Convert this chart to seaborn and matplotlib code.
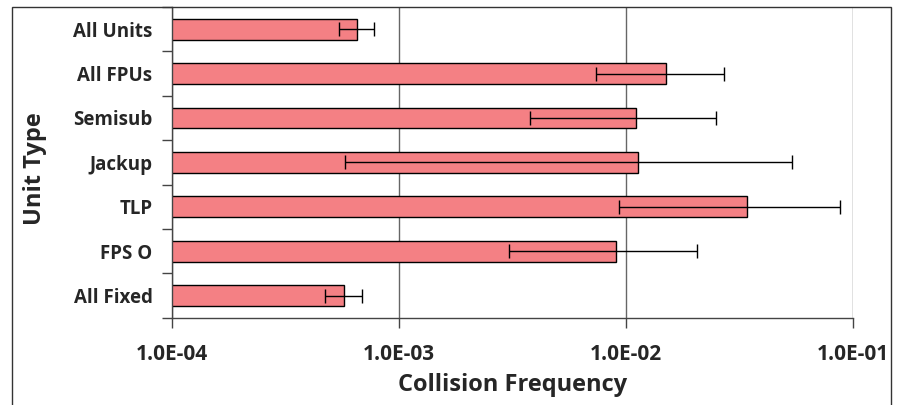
import matplotlib
matplotlib.use("Agg")
from matplotlib import pyplot as plt
from matplotlib.patches import Rectangle
from matplotlib.ticker import FixedLocator, FixedFormatter, NullLocator
import pandas as pd
import seaborn as sns

# data
unit_types = ["All Units", "All FPUs", "Semisub", "Jackup", "TLP", "FPS O", "All Fixed"]
frequency = [6.5e-4, 1.50e-2, 1.11e-2, 1.13e-2, 3.42e-2, 9.0e-3, 5.74e-4]
err_low = [5.42e-4, 7.4e-3, 3.79e-3, 5.78e-4, 9.35e-3, 3.06e-3, 4.72e-4]
err_high = [7.76e-4, 2.69e-2, 2.5e-2, 5.4e-2, 8.8e-2, 2.06e-2, 6.87e-4]
x_ticks = [1e-4, 1e-3, 1e-2, 1e-1]
x_tick_labels = ["1.0E-04", "1.0E-03", "1.0E-02", "1.0E-01"]

df = pd.DataFrame({"unit": unit_types, "freq": frequency})

sns.set_style("white")
plt.rcParams["font.family"] = ["Open Sans", "DejaVu Sans"]

fig = plt.figure(figsize=(8.97, 4.05), dpi=100)
ax = fig.add_axes([172 / 897, 1 - 317.7 / 405, 681 / 897, 310.7 / 405])

sns.barplot(data=df, x="freq", y="unit", orient="h", ax=ax, color="#F48084",
            saturation=1, edgecolor="black", linewidth=1, width=0.47, zorder=2)
ax.set_xscale("log")

# asymmetric error bars
xerr = [[f - lo for f, lo in zip(frequency, err_low)],
        [hi - f for f, hi in zip(frequency, err_high)]]
ax.errorbar(frequency, range(len(unit_types)), xerr=xerr, fmt="none",
            ecolor="black", elinewidth=1, capsize=4.7, capthick=1, zorder=3)

ax.set_xlim(1e-4, 1e-1)
ax.set_ylim(len(unit_types) - 0.5, -0.5)

# x axis
ax.xaxis.set_major_locator(FixedLocator(x_ticks))
ax.xaxis.set_major_formatter(FixedFormatter(x_tick_labels))
ax.xaxis.set_minor_locator(NullLocator())
ax.tick_params(axis="x", which="major", length=7, width=1, color="#444444",
               direction="out", pad=12, labelsize=15, bottom=True)
for lab in ax.get_xticklabels():
    lab.set_fontweight("bold")
ax.grid(axis="x", color="#666666", linewidth=1, zorder=0)
ax.set_axisbelow(True)

# y axis: labels at centres, ticks between categories
ax.tick_params(axis="y", which="major", length=0, pad=14, labelsize=13.5)
ax.yaxis.set_minor_locator(FixedLocator([i - 0.5 for i in range(len(unit_types) + 1)]))
ax.tick_params(axis="y", which="minor", length=7, width=1, color="#444444",
               direction="out", left=True)
for lab in ax.get_yticklabels():
    lab.set_fontweight("bold")

ax.set_xlabel("Collision Frequency", fontsize=17, fontweight="bold")
ax.set_ylabel("Unit Type", fontsize=17, fontweight="bold")
ax.xaxis.set_label_coords(0.5, -0.216)
ax.xaxis.label.set_va("center")
ax.yaxis.set_label_coords(-0.201, 0.48)
ax.yaxis.label.set_va("center")

for side in ["top", "right"]:
    ax.spines[side].set_visible(False)
for side in ["left", "bottom"]:
    ax.spines[side].set_color("#444444")
    ax.spines[side].set_linewidth(1)

# outer chart frame
fig.add_artist(Rectangle((12 / 897, -0.05), 879 / 897, 1.05 - 7 / 405,
                         transform=fig.transFigure, fill=False,
                         edgecolor="#333333", linewidth=1))

fig.savefig("out.png", dpi=100)
